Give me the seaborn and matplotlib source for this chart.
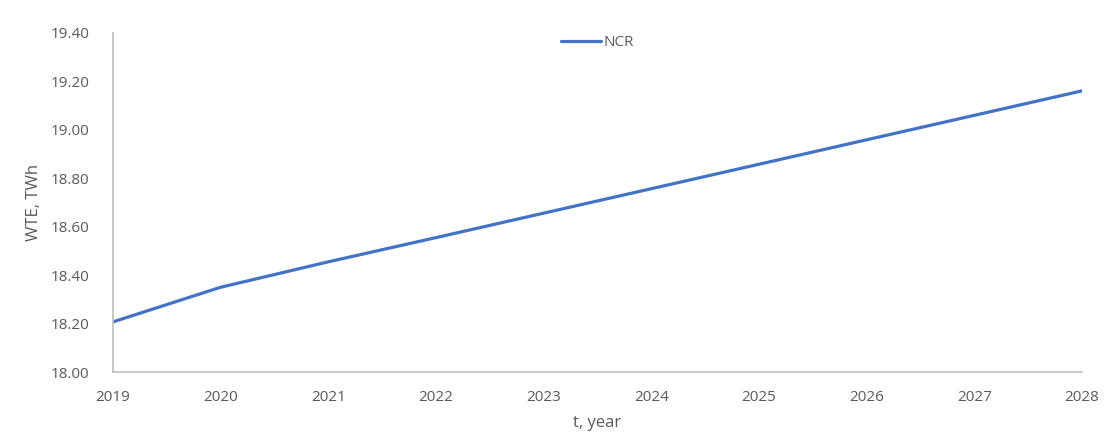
import matplotlib
matplotlib.use("Agg")
import matplotlib.pyplot as plt
import seaborn as sns
import pandas as pd

years = [2019, 2020, 2021, 2022, 2023, 2024, 2025, 2026, 2027, 2028]
ncr = [18.207, 18.350, 18.455, 18.555, 18.656, 18.757, 18.858, 18.959, 19.060, 19.161]
yticks = [18.00, 18.20, 18.40, 18.60, 18.80, 19.00, 19.20, 19.40]

sns.set_theme(style="white")
plt.rcParams['font.family'] = ['Open Sans', 'DejaVu Sans']

df = pd.DataFrame({"year": years, "NCR": ncr})

fig = plt.figure(figsize=(11.07, 4.34), dpi=100)
ax = fig.add_axes([113/1107, 1-372/434, (1082-113)/1107, (372-33)/434])
sns.lineplot(data=df, x="year", y="NCR", ax=ax, color="#4472C4", linewidth=2.3, label="NCR")

gray = "#595959"
ax.set_xlim(2019, 2028)
ax.set_ylim(18.0, 19.4)
ax.set_xticks(years)
ax.set_xticklabels([str(y) for y in years], color=gray, fontsize=11)
ax.set_yticks(yticks)
ax.set_yticklabels([f"{v:.2f}" for v in yticks], color=gray, fontsize=11)
ax.tick_params(axis='x', length=0, pad=13)
ax.tick_params(axis='y', length=0, pad=17)
for s in ["top", "right"]:
    ax.spines[s].set_visible(False)
for s in ["left", "bottom"]:
    ax.spines[s].set_color("#BFBFBF")
    ax.spines[s].set_linewidth(1.2)
ax.grid(False)
ax.set_xlabel("t, year", color=gray, fontsize=12, labelpad=7)
ax.set_ylabel("WTE, TWh", color=gray, fontsize=12, labelpad=6)

leg = ax.legend(loc="upper center", bbox_to_anchor=(0.50, 1.035), frameon=False,
                fontsize=11, handlelength=2.6, handletextpad=0.2)
for t in leg.get_texts():
    t.set_color(gray)

fig.savefig("out.png", dpi=100)
